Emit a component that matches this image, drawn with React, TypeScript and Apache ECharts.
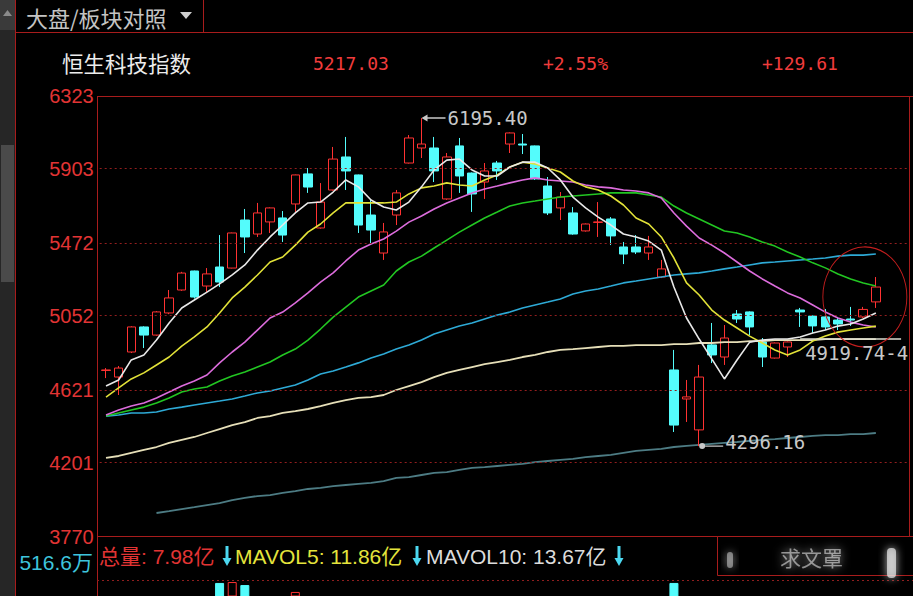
import React, { useEffect, useRef } from "react";
import * as echarts from "echarts";

// ---- data ----
const days = [
  "K01","K02","K03","K04","K05","K06","K07","K08","K09","K10",
  "K11","K12","K13","K14","K15","K16","K17","K18","K19","K20",
  "K21","K22","K23","K24","K25","K26","K27","K28","K29","K30",
  "K31","K32","K33","K34","K35","K36","K37","K38","K39","K40",
  "K41","K42","K43","K44","K45","K46","K47","K48","K49","K50",
  "K51","K52","K53","K54","K55","K56","K57","K58","K59","K60",
  "K61","K62",
];
const emptySlots = ["F1", "F2"];

const open = [4734,4696,4841,4986,4939,5067,5200,5310,5223,5333,5327,5605,5524,5594,5617,5698,5872,5559,5779,5970,5866,5634,5414,5634,5935,6022,6022,5727,6034,5877,5825,5935,6045,6045,6034,5802,5675,5646,5542,5591,5611,5449,5449,5414,5275,4737,4569,4390,4882,4812,5061,5073,4899,4806,4870,5084,5049,5044,5026,5032,5044,5131];
const close = [4737,4748,4986,4939,5073,5154,5298,5159,5293,5246,5530,5507,5646,5675,5518,5866,5796,5709,5958,5889,5576,5547,5536,5762,6080,6045,5889,5970,5860,5756,5889,5889,6109,6039,5843,5646,5738,5524,5582,5594,5513,5408,5420,5449,5322,4418,4581,4696,4824,4922,5032,4986,4812,4893,4899,5073,4992,4986,5003,5026,5087.42,5217.03];
const low = [4690,4592,4835,4864,4935,5060,5195,5150,5188,5217,5325,5414,5507,5530,5478,5646,5762,5555,5775,5779,5530,5472,5374,5576,5932,5964,5825,5722,5762,5652,5727,5837,5993,5987,5837,5634,5605,5520,5538,5507,5460,5350,5408,5374,5269,4378,4436,4296.16,4777,4766,5009,4939,4754,4803,4812,4986,4951,4968,4968,4992,5038,5096];
const high = [4748,4760,4990,4990,5078,5200,5305,5312,5327,5518,5532,5669,5704,5678,5657,5868,5906,5819,6028,6086,5868,5721,5588,5779,6097,6195.40,6086,5993,6080,5880,5935,5947,6112,6103,6036,5854,5767,5680,5585,5709,5622,5478,5518,5513,5374,4853,4679,4766,5009,4997,5084,5076,4922,4896,4902,5096,5052,5090,5038,5102,5102,5275];

const ma5 = [4644,4679,4795,4824,4910,5009,5096,5142,5188,5235,5287,5345,5431,5507,5576,5646,5704,5709,5767,5837,5797,5721,5680,5663,5709,5797,5895,5952,5958,5895,5860,5860,5912,5940,5940,5906,5837,5738,5675,5622,5576,5524,5507,5483,5431,5217,5038,4916,4801,4685,4795,4898,4910,4916,4916,4928,4951,4968,4991,5003,5032,5067];
const ma10 = [4580,4633,4685,4720,4766,4812,4875,4928,4986,5067,5154,5217,5287,5362,5391,5460,5535,5582,5646,5704,5704,5704,5704,5709,5756,5791,5802,5820,5808,5802,5837,5866,5912,5940,5929,5906,5883,5831,5797,5779,5744,5692,5617,5582,5507,5385,5241,5171,5084,5026,4980,4933,4893,4853,4824,4853,4904,4933,4956,4968,4980,4991];
const ma20 = [4476,4505,4528,4546,4575,4609,4644,4673,4708,4778,4841,4898,4968,5038,5072,5125,5183,5246,5299,5368,5431,5466,5495,5541,5593,5628,5669,5704,5733,5762,5785,5802,5820,5837,5849,5837,5831,5825,5808,5797,5791,5779,5773,5762,5733,5646,5570,5501,5460,5414,5362,5310,5264,5223,5183,5154,5113,5072,5038,5014,4997,4986];
const ma30 = [4470,4488,4505,4522,4546,4575,4609,4627,4638,4673,4702,4725,4754,4783,4824,4858,4910,4974,5043,5101,5159,5194,5229,5310,5362,5396,5443,5489,5535,5576,5617,5651,5686,5704,5715,5727,5738,5744,5750,5756,5762,5762,5762,5750,5738,5686,5646,5611,5576,5541,5530,5507,5478,5454,5420,5391,5357,5328,5293,5264,5241,5223];
const ma60 = [4470,4476,4488,4488,4494,4511,4522,4534,4546,4557,4569,4586,4604,4615,4633,4650,4679,4714,4731,4754,4778,4806,4830,4858,4881,4910,4945,4968,4991,5009,5032,5055,5072,5096,5113,5130,5148,5177,5194,5206,5223,5241,5252,5264,5275,5287,5293,5299,5310,5322,5333,5345,5357,5362,5368,5374,5379,5385,5396,5402,5402,5408];
const ma120 = [4228,4239,4257,4274,4291,4315,4332,4349,4372,4395,4418,4435,4459,4470,4488,4499,4511,4528,4546,4563,4575,4580,4592,4621,4644,4667,4696,4720,4737,4754,4771,4783,4795,4812,4824,4841,4853,4858,4864,4870,4876,4876,4881,4881,4881,4887,4887,4893,4893,4898,4898,4904,4904,4910,4910,4910,4910,4916,4916,4916,4916,4916];
const ma250 = [null,null,null,null,3909,3920,3932,3943,3955,3966,3984,3996,4007,4013,4025,4036,4048,4054,4065,4071,4077,4083,4094,4112,4117,4129,4141,4146,4158,4170,4175,4181,4187,4193,4204,4210,4216,4222,4233,4239,4245,4257,4268,4274,4280,4291,4297,4303,4309,4315,4320,4326,4332,4337,4343,4349,4355,4360,4360,4366,4366,4372];

// volume (亿) – only the bar tops that reach into the visible strip
const volume = [null,null,null,null,null,null,null,null,null,28.7,29.3,27.3,null,null,null,22.7,null,null,null,null,null,null,null,null,null,null,null,null,null,null,null,null,null,null,null,null,null,null,null,null,null,null,null,null,null,28.7,null,null,null,null,null,null,null,null,null,null,null,null,null,null,null,7.98];

const priceTicks = [3770, 4201, 4621, 5052, 5472, 5903, 6323];
const gridTicks = [4201, 4621, 5052, 5472, 5903];
const drawnLevel = 4919.74;
const drawnLabel = "4919.74-4";
const volAxisLabel = "516.6万";
const volTotal = "总量: 7.98亿";
const mavol5Text = "MAVOL5: 11.86亿";
const mavol10Text = "MAVOL10: 13.67亿";
const watermark = "求文罩";

const RED = "#ff3232";
const CYAN = "#54fcfc";
const FRAME = "#a81c1c";
const CJK = '"Noto Sans CJK SC", sans-serif';
const SANS = '"Liberation Sans", Arial, "Noto Sans CJK SC", sans-serif';
const MONO = '"DejaVu Sans Mono", "Liberation Mono", monospace';

export default function App() {
  const ref = useRef<HTMLDivElement>(null);

  useEffect(() => {
    if (!ref.current) return;
    const chart = echarts.init(ref.current, null, { renderer: "svg" });
    const cats = [...days, ...emptySlots];
    const candles = days.map((_, i) => [open[i], close[i], low[i], high[i]]);

    const n = close.length;
    const last = close[n - 1];
    const prev = close[n - 2];
    const chg = last - prev;
    const pct = (chg / prev) * 100;
    const sign = (v: number) => (v >= 0 ? "+" : "");

    const hiVal = Math.max(...high);
    const hiIdx = high.indexOf(hiVal);
    const loVal = Math.min(...low);
    const loIdx = low.indexOf(loVal);

    const lineS = (name: string, data: (number | null)[], color: string, z = 4, width = 1.6) => ({
      name,
      type: "line",
      data,
      symbol: "none",
      showSymbol: false,
      silent: true,
      z,
      lineStyle: { color, width },
      emphasis: { disabled: true },
    });

    const volData = volume.map((v, i) =>
      v == null
        ? "-"
        : {
            value: v,
            itemStyle:
              close[i] >= open[i]
                ? { color: "#000", borderColor: RED, borderWidth: 1 }
                : { color: CYAN, borderColor: CYAN, borderWidth: 1 },
          }
    );

    const txt = (text: string, x: number, y: number, fill: string, fontSize: number, fontFamily: string, align = "left") => ({
      type: "text",
      x,
      y,
      silent: true,
      style: { text, fill, fontSize, fontFamily, verticalAlign: "middle", align },
    });
    const downArrow = (x: number) => ({
      type: "polygon",
      silent: true,
      shape: { points: [[x + 2.5, 546], [x + 5.5, 546], [x + 5.5, 558], [x + 8.5, 558], [x + 4, 566], [x - 0.5, 558], [x + 2.5, 558]] },
      style: { fill: "#4cd8f0" },
    });

    chart.setOption({
      animation: false,
      backgroundColor: "#000",
      grid: [
        { left: 99.7, right: 5.6, top: 96, height: 441, containLabel: false, outerBoundsMode: "none" },
        { left: 99.7, right: 5.6, top: 581, height: 15, containLabel: false, outerBoundsMode: "none" },
      ],
      xAxis: [
        {
          type: "category",
          data: cats,
          boundaryGap: true,
          axisLine: { show: false },
          axisTick: { show: false },
          axisLabel: { show: false },
          splitLine: { show: false },
        },
        { type: "category", gridIndex: 1, data: cats, boundaryGap: true, show: false },
      ],
      yAxis: [
        {
          type: "value",
          min: 3770,
          max: 6323,
          position: "left",
          axisLine: { show: false },
          axisTick: { show: false },
          splitLine: { show: false },
          axisLabel: {
            customValues: priceTicks,
            formatter: (v: number) => String(Math.round(v)),
            color: "#e23434",
            fontSize: 20,
            fontFamily: SANS,
            margin: 6,
          },
        },
        { type: "value", gridIndex: 1, min: 20, max: 30, show: false },
      ],
      series: [
        {
          ...lineS("MA250", ma250, "#4d7c84", 2, 1.8),
          markLine: {
            silent: true,
            symbol: "none",
            label: { show: false },
            lineStyle: { color: "#921e1e", type: [2, 3], width: 1 },
            data: gridTicks.map((v) => ({ yAxis: v })),
          },
        },
        {
          ...lineS("MA120", ma120, "#e6dfb8", 4, 1.8),
          markLine: {
            silent: true,
            symbol: "none",
            lineStyle: { color: "#dcdcd0", type: "solid", width: 1.6 },
            label: {
              show: true,
              position: "insideStartBottom",
              formatter: drawnLabel,
              color: "#c8c8c8",
              fontSize: 19,
              fontFamily: MONO,
            },
            data: [[{ coord: [55, drawnLevel] }, { coord: [63, drawnLevel] }]],
          },
        },
        {
          name: "K",
          type: "candlestick",
          data: candles,
          barWidth: 9,
          silent: true,
          z: 3,
          itemStyle: {
            color: "#000",
            color0: CYAN,
            borderColor: RED,
            borderColor0: CYAN,
            borderWidth: 1,
          },
          markPoint: {
            silent: true,
            data: [
              {
                coord: [hiIdx, hiVal],
                symbol: "path://M0,3 L6,0 L6,2.4 L24,2.4 L24,3.6 L6,3.6 L6,6 Z",
                symbolSize: [24, 7],
                symbolOffset: [12, 0],
                itemStyle: { color: "#c8c8c8" },
                label: {
                  show: true,
                  position: "right",
                  distance: 2,
                  formatter: hiVal.toFixed(2),
                  color: "#c8c8c8",
                  fontSize: 19,
                  fontFamily: MONO,
                },
              },
              {
                coord: [loIdx, loVal],
                symbol: "path://M0,3 A3,3 0 1 1 6,3 A3,3 0 1 1 0,3 Z M6,2.4 L24,2.4 L24,3.6 L6,3.6 Z",
                symbolSize: [24, 6],
                symbolOffset: [12, 0],
                itemStyle: { color: "#c8c8c8" },
                label: {
                  show: true,
                  position: "right",
                  distance: 2,
                  offset: [0, -4],
                  formatter: loVal.toFixed(2),
                  color: "#c8c8c8",
                  fontSize: 19,
                  fontFamily: MONO,
                },
              },
              {
                coord: [n - 1, 5160],
                symbol: "circle",
                symbolSize: [84, 100],
                symbolOffset: [-11, 0],
                itemStyle: { color: "rgba(0,0,0,0)", borderColor: "#c41e1e", borderWidth: 1 },
                label: { show: false },
              },
            ],
          },
        },
        lineS("MA60", ma60, "#2eaad6"),
        lineS("MA30", ma30, "#22c622"),
        lineS("MA20", ma20, "#dc6cdc"),
        lineS("MA10", ma10, "#e2e238"),
        lineS("MA5", ma5, "#e8e8e8"),
        {
          name: "VOL",
          type: "bar",
          xAxisIndex: 1,
          yAxisIndex: 1,
          data: volData,
          barWidth: 9,
          silent: true,
        },
      ],
      graphic: [
        // scroll bar
        { type: "rect", silent: true, shape: { x: 0, y: 0, width: 15, height: 596 }, style: { fill: "#262626" } },
        { type: "rect", silent: true, shape: { x: 0, y: 0, width: 15, height: 30 }, style: { fill: "#3a3a3a" } },
        { type: "polygon", silent: true, shape: { points: [[3, 16], [7.5, 10], [12, 16]] }, style: { fill: "#8a8a8a" } },
        { type: "rect", silent: true, shape: { x: 1, y: 145, width: 13, height: 137 }, style: { fill: "#4a4a4a" } },
        // frame lines
        { type: "line", silent: true, shape: { x1: 15.5, y1: 0, x2: 15.5, y2: 596 }, style: { stroke: FRAME, lineWidth: 1 } },
        { type: "line", silent: true, shape: { x1: 15, y1: 32.5, x2: 913, y2: 32.5 }, style: { stroke: FRAME, lineWidth: 1 } },
        { type: "line", silent: true, shape: { x1: 203.5, y1: 0, x2: 203.5, y2: 32 }, style: { stroke: FRAME, lineWidth: 1 } },
        { type: "line", silent: true, shape: { x1: 97, y1: 96.5, x2: 913, y2: 96.5 }, style: { stroke: FRAME, lineWidth: 1 } },
        { type: "line", silent: true, shape: { x1: 97.5, y1: 96, x2: 97.5, y2: 596 }, style: { stroke: FRAME, lineWidth: 1 } },
        { type: "line", silent: true, shape: { x1: 97, y1: 536.5, x2: 913, y2: 536.5 }, style: { stroke: FRAME, lineWidth: 1 } },
        { type: "line", silent: true, shape: { x1: 909.5, y1: 96, x2: 909.5, y2: 536 }, style: { stroke: FRAME, lineWidth: 1 } },
        { type: "line", silent: true, shape: { x1: 97, y1: 580.5, x2: 913, y2: 580.5 }, style: { stroke: "#8e1e1e", lineWidth: 1, lineDash: [2, 3] } },
        // bottom-right box with blurred watermark
        { type: "rect", silent: true, shape: { x: 717.5, y: 536.5, width: 200, height: 39 }, style: { fill: "#000", stroke: FRAME, lineWidth: 1 } },
        {
          type: "text",
          x: 780,
          y: 557,
          silent: true,
          style: {
            text: watermark,
            fill: "rgba(225,225,225,0.6)",
            fontSize: 21,
            fontFamily: CJK,
            verticalAlign: "middle",
            textShadowColor: "rgba(255,255,255,0.95)",
            textShadowBlur: 10,
          },
        },
        { type: "rect", silent: true, shape: { x: 727, y: 552, width: 6, height: 16, r: 3 }, style: { fill: "rgba(220,220,220,0.5)", shadowBlur: 8, shadowColor: "#fff" } },
        { type: "rect", silent: true, shape: { x: 887, y: 548, width: 9, height: 30, r: 4 }, style: { fill: "rgba(235,235,235,0.7)", shadowBlur: 8, shadowColor: "#fff" } },
        // header texts
        txt("大盘/板块对照", 26, 17, "#c4c4c4", 22, CJK),
        { type: "polygon", silent: true, shape: { points: [[180, 12], [192, 12], [186, 19]] }, style: { fill: "#cfcfcf" } },
        txt("恒生科技指数", 62, 62, "#ececec", 21.5, CJK),
        txt(last.toFixed(2), 313, 63, "#f03c3c", 18, MONO),
        txt(sign(pct) + pct.toFixed(2) + "%", 543, 63, "#f03c3c", 18, MONO),
        txt(sign(chg) + chg.toFixed(2), 762, 63, "#f03c3c", 18, MONO),
        // volume header
        txt(volAxisLabel, 93, 562, "#3ec4dc", 21, SANS, "right"),
        txt(volTotal, 99, 556, "#e23434", 21, SANS),
        downArrow(223),
        txt(mavol5Text, 235, 556, "#e4e43c", 21, SANS),
        downArrow(413),
        txt(mavol10Text, 426, 556, "#dcdcdc", 21, SANS),
        downArrow(615),
      ],
    });

    return () => chart.dispose();
  }, []);

  return (
    <div
      ref={ref}
      style={{ position: "absolute", left: 0, top: 0, width: 913, height: 596, background: "#000" }}
    />
  );
}
